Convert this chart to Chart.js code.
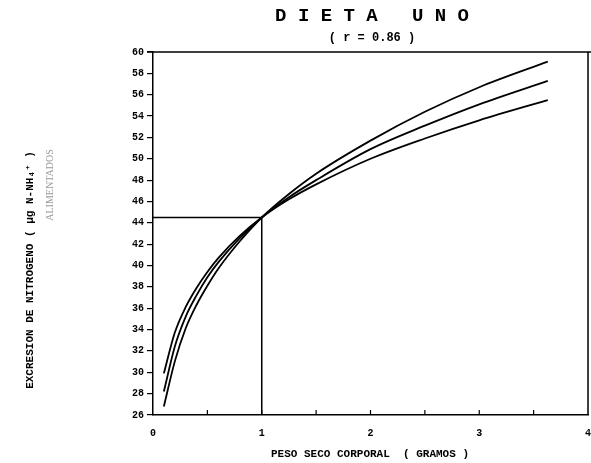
<!DOCTYPE html>
<html>
<head>
<meta charset="utf-8">
<script src="https://cdn.jsdelivr.net/npm/chart.js@4.4.1/dist/chart.umd.min.js"></script>
<style>
    html, body { margin: 0; padding: 0; background: #fff; }
    #wrap { width: 591px; height: 463px; }
</style>
</head>
<body>
<div id="wrap"><canvas id="dietaChart" width="591" height="463"></canvas></div>
<script>
(function () {

    // peso seco corporal (g) and the three fitted curves
    var pesoSeco = [0.1, 0.2, 0.3, 0.4, 0.5, 0.6, 0.8, 1.0, 1.25, 1.5, 2.0, 2.5, 3.0, 3.63];
    var curvaA = [26.8, 31.0, 34.1, 36.3, 38.1, 39.7, 42.3, 44.5, 46.7, 48.6, 51.7, 54.4, 56.7, 59.1];
    var curvaB = [28.2, 32.4, 35.2, 37.2, 38.9, 40.3, 42.6, 44.5, 46.4, 48.0, 50.9, 53.1, 55.1, 57.3];
    var curvaC = [29.9, 33.7, 36.1, 37.9, 39.4, 40.7, 42.8, 44.5, 46.2, 47.6, 50.0, 51.9, 53.6, 55.5];

    // reference lines at 1 g
    var refX = [0, 1, 1];
    var refY = [44.5, 44.5, 26];

    var minorTicksX = [0.5, 1, 1.5, 2, 2.5, 3, 3.5];

    var monoFont = "'Liberation Mono', 'DejaVu Sans Mono', monospace";

    function toPoints(xs, ys) {
        var pts = [];
        for (var i = 0; i < xs.length; i++) {
            pts.push({ x: xs[i], y: ys[i] });
        }
        return pts;
    }

    function curveDataset(label, values) {
        return {
            label: label,
            data: toPoints(pesoSeco, values),
            borderColor: "#000",
            borderWidth: 1.8,
            pointRadius: 0,
            fill: false,
            cubicInterpolationMode: "monotone"
        };
    }

    var frame = {
        id: "frame",
        afterDraw: function (chart) {
            var ctx = chart.ctx;
            var area = chart.chartArea;
            var xs = chart.scales.x;

            ctx.save();
            ctx.strokeStyle = "#000";
            ctx.lineWidth = 1.5;
            // top and right border
            ctx.beginPath();
            ctx.moveTo(area.left - 6, area.top);
            ctx.lineTo(chart.width, area.top);
            ctx.moveTo(area.right, area.top);
            ctx.lineTo(area.right, area.bottom);
            ctx.stroke();

            // small ticks on x axis pointing up
            ctx.lineWidth = 1.2;
            ctx.beginPath();
            for (var i = 0; i < minorTicksX.length; i++) {
                var px = xs.getPixelForValue(minorTicksX[i]);
                ctx.moveTo(px, area.bottom);
                ctx.lineTo(px, area.bottom - 5);
            }
            ctx.stroke();

            ctx.fillStyle = "#000";
            ctx.textAlign = "center";
            ctx.textBaseline = "middle";

            ctx.font = "bold 19px " + monoFont;
            ctx.fillText("D I E T A   U N O", 372, 16);

            ctx.font = "bold 12px " + monoFont;
            ctx.fillText("( r = 0.86 )", 372, 38);

            ctx.font = "bold 11px " + monoFont;
            ctx.fillText("PESO SECO CORPORAL  ( GRAMOS )", 370, 454);

            // y axis title
            ctx.save();
            ctx.translate(30, 270);
            ctx.rotate(-Math.PI / 2);
            ctx.font = "bold 11px " + monoFont;
            ctx.fillText("EXCRESION DE NITROGENO ( \u03bcg N-NH\u2084\u207a )", 0, 0);
            ctx.restore();

            ctx.save();
            ctx.translate(50, 185);
            ctx.rotate(-Math.PI / 2);
            ctx.fillStyle = "#9a9a9a";
            ctx.font = "10px 'Liberation Serif', serif";
            ctx.fillText("ALIMENTADOS", 0, 0);
            ctx.restore();

            ctx.restore();
        }
    };

    var ctx = document.getElementById("dietaChart").getContext("2d");

    new Chart(ctx, {
        type: "line",
        data: {
            datasets: [
                curveDataset("A", curvaA),
                curveDataset("B", curvaB),
                curveDataset("C", curvaC),
                {
                    label: "ref",
                    data: toPoints(refX, refY),
                    borderColor: "#000",
                    borderWidth: 1.5,
                    pointRadius: 0,
                    fill: false,
                    tension: 0
                }
            ]
        },
        options: {
            responsive: false,
            animation: false,
            devicePixelRatio: 1,
            layout: {
                padding: { left: 0, top: 52, right: 0, bottom: 0 }
            },
            plugins: {
                legend: { display: false },
                title: { display: false },
                tooltip: { enabled: false }
            },
            scales: {
                x: {
                    type: "linear",
                    min: 0,
                    max: 4,
                    afterFit: function (scale) {
                        scale.height = 48;
                        scale.paddingRight = 3;
                    },
                    border: { display: true, color: "#000", width: 1.5 },
                    grid: { drawOnChartArea: false, drawTicks: false },
                    ticks: {
                        stepSize: 1,
                        padding: 12,
                        maxRotation: 0,
                        color: "#000",
                        font: { family: monoFont, size: 10, weight: "bold" }
                    }
                },
                y: {
                    min: 26,
                    max: 60,
                    afterFit: function (scale) { scale.width = 153; },
                    border: { display: true, color: "#000", width: 1.5 },
                    grid: { drawOnChartArea: false, drawTicks: true, tickLength: 6, color: "#000", lineWidth: 1.2 },
                    ticks: {
                        stepSize: 2,
                        padding: 3,
                        color: "#000",
                        font: { family: monoFont, size: 10, weight: "bold" }
                    }
                }
            }
        },
        plugins: [frame]
    });

})();
</script>
</body>
</html>
